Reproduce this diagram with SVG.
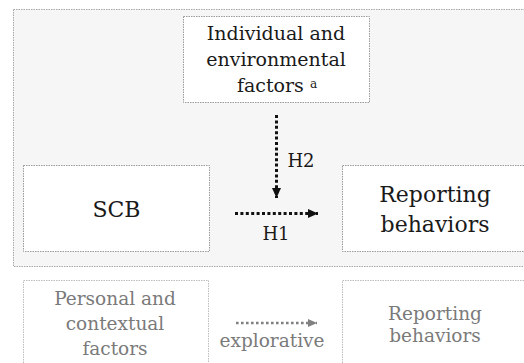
<svg xmlns="http://www.w3.org/2000/svg" width="524" height="363" viewBox="0 0 524 363">
<style>
.t{font-family:"DejaVu Serif","Liberation Serif",serif;fill:#1a1a1a;text-anchor:middle}
.g{font-family:"DejaVu Serif","Liberation Serif",serif;fill:#7a7a7a;text-anchor:middle}
.box{fill:#ffffff;stroke:#9a9a9a;stroke-width:1;stroke-dasharray:1.5 1}
.gbox{fill:#ffffff;stroke:#bdbdbd;stroke-width:1;stroke-dasharray:1.5 1}
.dk{stroke:#111;stroke-width:3;stroke-dasharray:3 2.4;fill:none}
.lt{stroke:#808080;stroke-width:2.4;stroke-dasharray:2.6 2.4;fill:none}
</style>
<defs>
<marker id="ah" markerUnits="userSpaceOnUse" markerWidth="10" markerHeight="10" refX="10" refY="5" orient="auto"><path d="M0,0.5 L10,5 L0,9.5 Z" fill="#111"/></marker>
<marker id="ahg" markerUnits="userSpaceOnUse" markerWidth="10" markerHeight="10" refX="9" refY="5" orient="auto"><path d="M0,1 L9,5 L0,9 Z" fill="#808080"/></marker>
</defs>
<rect width="524" height="363" fill="#ffffff"/>
<rect id="frame" x="13.5" y="9.5" width="520" height="257" fill="#f6f6f6" stroke="#a8a8a8" stroke-width="1" stroke-dasharray="1.5 1"/>
<g id="factors">
<rect class="box" x="183.5" y="16.5" width="186" height="86"/>
<text class="t" x="276" y="40" font-size="19">Individual and</text>
<text class="t" x="276" y="66" font-size="19">environmental</text>
<text class="t" x="277" y="92" font-size="19">factors <tspan font-size="12" dy="-4">a</tspan></text>
</g>
<g id="scb">
<rect class="box" x="23.5" y="165.5" width="186" height="86"/>
<text class="t" x="116.5" y="217" font-size="22">SCB</text>
</g>
<g id="reporting">
<rect class="box" x="342.5" y="165.5" width="200" height="86"/>
<text class="t" x="435" y="202" font-size="22">Reporting</text>
<text class="t" x="435" y="232" font-size="22">behaviors</text>
</g>
<g id="personal">
<rect class="gbox" x="23.5" y="280.5" width="185" height="100"/>
<text class="g" x="115" y="305" font-size="18.5">Personal and</text>
<text class="g" x="115" y="330" font-size="18.5">contextual</text>
<text class="g" x="115" y="355" font-size="18.5">factors</text>
</g>
<g id="reporting2">
<rect class="gbox" x="342.5" y="280.5" width="200" height="100"/>
<text class="g" x="435" y="320" font-size="18.5">Reporting</text>
<text class="g" x="435" y="342" font-size="18.5">behaviors</text>
</g>
<g id="connectors">
<line class="dk" x1="276.5" y1="115" x2="276.5" y2="198" marker-end="url(#ah)"/>
<text class="t" x="301" y="167" font-size="18">H2</text>
<line class="dk" x1="235" y1="213.5" x2="318" y2="213.5" marker-end="url(#ah)"/>
<text class="t" x="276" y="240" font-size="18">H1</text>
<line class="lt" x1="236" y1="323" x2="317" y2="323" marker-end="url(#ahg)"/>
<text class="g" x="272" y="347" font-size="18.5">explorative</text>
</g>
</svg>
